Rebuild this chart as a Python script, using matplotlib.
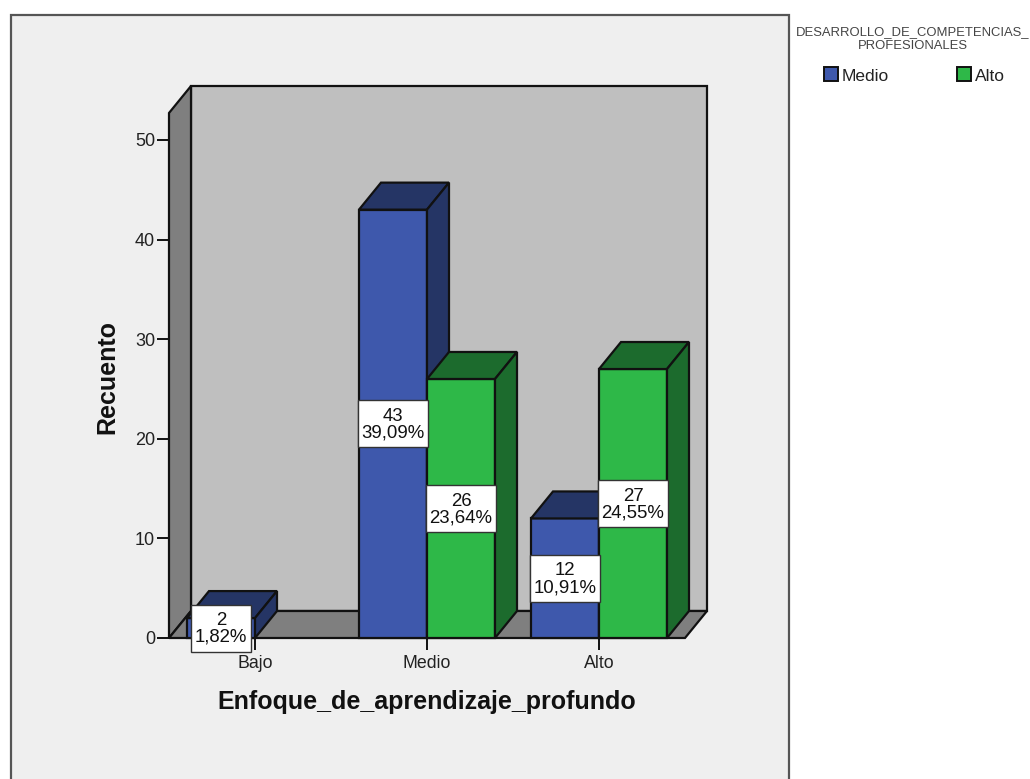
import matplotlib
matplotlib.use("Agg")
import matplotlib.pyplot as plt
from matplotlib.patches import Polygon, Rectangle

plt.rcParams['font.family'] = ['Liberation Sans', 'DejaVu Sans']

categories = ['Bajo', 'Medio', 'Alto']
series_names = ['Medio', 'Alto']
medio_counts = [2, 43, 12]
alto_counts = [None, 26, 27]
medio_pct = ['1,82%', '39,09%', '10,91%']
alto_pct = [None, '23,64%', '24,55%']
y_ticks = [0, 10, 20, 30, 40, 50]

W, H = 1030, 779
fig = plt.figure(figsize=(W / 100, H / 100), dpi=100, facecolor='white')


def fx(px):
    return px / W


def fy(py):
    return 1 - py / H


# chart panel
fig.patches.append(Rectangle((fx(11), fy(790)), fx(778), fy(15) - fy(790),
                             transform=fig.transFigure, facecolor='#EFEFEF',
                             edgecolor='#555555', linewidth=1.6, zorder=-5))

ax = fig.add_axes([fx(169), fy(638), fx(685 - 169), fy(113) - fy(638)])
ax.set_zorder(2)
ax.set_xlim(-0.5, 2.5)
ax.set_ylim(0, 52.7)
ax.patch.set_visible(False)
for s in ax.spines.values():
    s.set_visible(False)

DX = 22 / 172
DY = 27 / 9.96
BW = 68 / 172
EDGE = '#111111'
LW = 1.6


def poly(pts, fc, z=2):
    ax.add_patch(Polygon(pts, closed=True, facecolor=fc, edgecolor=EDGE,
                         linewidth=LW, joinstyle='miter', clip_on=False, zorder=z))


x0, x1 = -0.5, 2.5
y1 = 52.7
# walls
poly([(x0 + DX, DY), (x1 + DX, DY), (x1 + DX, y1 + DY), (x0 + DX, y1 + DY)], '#BFBFBF', 1)
poly([(x0, 0), (x0 + DX, DY), (x0 + DX, y1 + DY), (x0, y1)], '#7F7F7F', 1)
poly([(x0, 0), (x1, 0), (x1 + DX, DY), (x0 + DX, DY)], '#7F7F7F', 1)


def bar3d(left, val, front, top, side, z):
    r = left + BW
    poly([(left, 0), (r, 0), (r, val), (left, val)], front, z)
    poly([(left, val), (r, val), (r + DX, val + DY), (left + DX, val + DY)], top, z)
    poly([(r, 0), (r + DX, DY), (r + DX, val + DY), (r, val)], side, z)


def label(cx, cy, count, pct, width=BW):
    ax.add_patch(Rectangle((cx - width / 2 - 0.005, cy - 23.5 / 9.96), width + 0.01, 47 / 9.96,
                           facecolor='white', edgecolor='#333333', linewidth=1.0,
                           clip_on=False, zorder=19))
    ax.text(cx, cy - 0.1, f'{count}\n{pct}', ha='center', va='center', fontsize=13.4,
            color='#111111', linespacing=0.98, zorder=20, clip_on=False)


for i, cat in enumerate(categories):
    m, a = medio_counts[i], alto_counts[i]
    left = i - BW
    if m is not None:
        bar3d(left, m, '#3E58AC', '#253565', '#253565', 3 + i)
    if a is not None:
        bar3d(i, a, '#2EB848', '#1C6B2D', '#1C6B2D', 4 + i)
    if m is not None:
        if m < 5:
            label(i - BW / 2, 1, m, medio_pct[i], width=58 / 172)
        else:
            label(i - BW / 2, m / 2, m, medio_pct[i])
    if a is not None:
        label(i + BW / 2, a / 2, a, alto_pct[i])

ax.set_xticks(range(len(categories)))
ax.set_xticklabels(categories, fontsize=12.8, color='#222222')
ax.set_yticks(y_ticks)
ax.set_yticklabels([str(v) for v in y_ticks], fontsize=13, color='#222222')
ax.tick_params(axis='x', length=8.6, width=1.4, color=EDGE, pad=3.5)
ax.tick_params(axis='y', length=8.6, width=1.4, color=EDGE, pad=1.4)

fig.text(fx(107), fy(377), 'Recuento', rotation=90, ha='center', va='center',
         fontsize=18, fontweight='bold', color='#111111')
fig.text(fx(427), fy(702), 'Enfoque_de_aprendizaje_profundo', ha='center', va='center',
         fontsize=18, fontweight='bold', color='#111111')

# legend
fig.text(fx(913), fy(39), 'DESARROLLO_DE_COMPETENCIAS_\nPROFESIONALES', ha='center',
         va='center', fontsize=9.4, color='#444444', linespacing=1.15)
for px, name, col in zip([824, 957], series_names, ['#3E58AC', '#2EB848']):
    fig.patches.append(Rectangle((fx(px), fy(81)), fx(13.5), fy(67) - fy(81),
                                 transform=fig.transFigure, facecolor=col,
                                 edgecolor=EDGE, linewidth=1.4))
    fig.text(fx(px + 18), fy(76.5), name, ha='left', va='center', fontsize=12.5, color='#222222')

fig.savefig('out.png', dpi=100, facecolor='white')
